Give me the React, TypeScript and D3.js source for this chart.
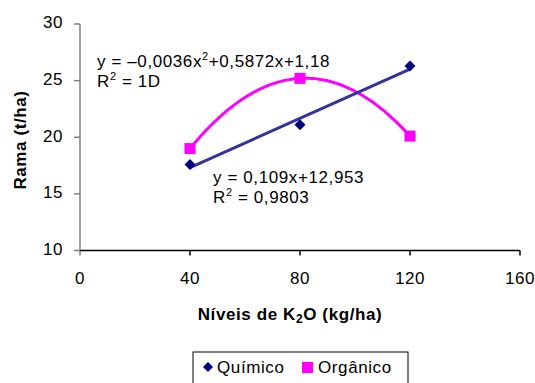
import React from "react";
import * as d3 from "d3";

// dados
const niveis = [40, 80, 120];
const quimico = [17.6, 21.1, 26.3];
const organico = [19.0, 25.2, 20.1];
const xTicks = [0, 40, 80, 120, 160];
const yTicks = [10, 15, 20, 25, 30];

const W = 535;
const H = 383;
const font = "Arial, 'Liberation Sans', sans-serif";

// regressão linear simples
function linFit(xs: number[], ys: number[]) {
  const mx = d3.mean(xs)!;
  const my = d3.mean(ys)!;
  const b = d3.sum(xs, (x, i) => (x - mx) * (ys[i] - my)) / d3.sum(xs, (x) => (x - mx) ** 2);
  return (x: number) => my + b * (x - mx);
}

// polinômio de grau 2 pelos três pontos (Lagrange)
function quadFit(xs: number[], ys: number[]) {
  return (x: number) =>
    ys.reduce((acc, y, i) => {
      let t = y;
      xs.forEach((xj, j) => {
        if (j !== i) t *= (x - xj) / (xs[i] - xj);
      });
      return acc + t;
    }, 0);
}

export default function App() {
  const x = d3.scaleLinear().domain([0, 160]).range([80, 520]);
  const y = d3.scaleLinear().domain([10, 30]).range([250.5, 24]);

  const fLin = linFit(niveis, quimico);
  const fQuad = quadFit(niveis, organico);
  const xs = d3.range(40, 120.01, 1);

  const diamond = (cx: number, cy: number, r: number) =>
    `M${cx},${cy - r}L${cx + r},${cy}L${cx},${cy + r}L${cx - r},${cy}Z`;

  const txt = { fontFamily: font, fontSize: 17, letterSpacing: 0.6, fill: "#000" };

  return (
    <svg width={W} height={H} style={{ position: "absolute", left: 0, top: 0, background: "#fff" }}>
      {/* eixo y */}
      <line x1={x(0)} x2={x(0)} y1={y(30)} y2={y(10) + 5} stroke="#808080" strokeWidth={1.5} />
      {yTicks.map((t) => (
        <g key={t}>
          <line x1={x(0) - 6} x2={x(0)} y1={y(t)} y2={y(t)} stroke="#808080" strokeWidth={1.5} />
          <text x={63} y={y(t)} dominantBaseline="middle" textAnchor="end" {...txt}>
            {t}
          </text>
        </g>
      ))}
      {/* eixo x */}
      <line x1={x(0)} x2={x(160)} y1={y(10)} y2={y(10)} stroke="#000" strokeWidth={1.5} />
      {xTicks.map((t) => (
        <g key={t}>
          {t > 0 && <line x1={x(t)} x2={x(t)} y1={y(10)} y2={y(10) + 5} stroke="#000" strokeWidth={1.5} />}
          <text x={x(t)} y={284} textAnchor="middle" {...txt}>
            {t}
          </text>
        </g>
      ))}

      {/* títulos */}
      <text transform="translate(26,140) rotate(-90)" textAnchor="middle" {...txt} fontWeight="bold">
        Rama (t/ha)
      </text>
      <text x={290} y={320} textAnchor="middle" {...txt} fontWeight="bold">
        Níveis de K<tspan fontSize={12} dy={3}>2</tspan>
        <tspan dy={-3}>O (kg/ha)</tspan>
      </text>

      {/* linhas de tendência */}
      <path
        d={d3.line<number>().x((d) => x(d)).y((d) => y(fQuad(d)))(xs) ?? ""}
        fill="none"
        stroke="#FF00FF"
        strokeWidth={3}
      />
      <path
        d={d3.line<number>().x((d) => x(d)).y((d) => y(fLin(d)))([40, 120]) ?? ""}
        fill="none"
        stroke="#333399"
        strokeWidth={3}
      />

      {/* pontos */}
      {niveis.map((n, i) => (
        <path key={"q" + n} d={diamond(x(n), y(quimico[i]), 5.5)} fill="#000080" />
      ))}
      {niveis.map((n, i) => (
        <rect
          key={"o" + n}
          x={x(n) - 5.5}
          y={y(organico[i]) - 5.5}
          width={11}
          height={11}
          fill="#FF00FF"
        />
      ))}

      {/* equações */}
      <text x={97} y={67} {...txt}>
        y = –0,0036x<tspan fontSize={11} dy={-7}>2</tspan>
        <tspan dy={7}>+0,5872x+1,18</tspan>
      </text>
      <text x={97} y={87} {...txt}>
        R<tspan fontSize={11} dy={-7}>2</tspan>
        <tspan dy={7}> = 1D</tspan>
      </text>
      <text x={213} y={183} {...txt}>
        y = 0,109x+12,953
      </text>
      <text x={213} y={203} {...txt}>
        R<tspan fontSize={11} dy={-7}>2</tspan>
        <tspan dy={7}> = 0,9803</tspan>
      </text>

      {/* legenda */}
      <rect x={193} y={352} width={215} height={40} fill="#fff" stroke="#000" strokeWidth={1} />
      <path d={diamond(208, 367, 5)} fill="#000080" />
      <text x={217} y={373} {...txt}>
        Químico
      </text>
      <rect x={302} y={362} width={11} height={11} fill="#FF00FF" />
      <text x={318} y={373} {...txt}>
        Orgânico
      </text>
    </svg>
  );
}
